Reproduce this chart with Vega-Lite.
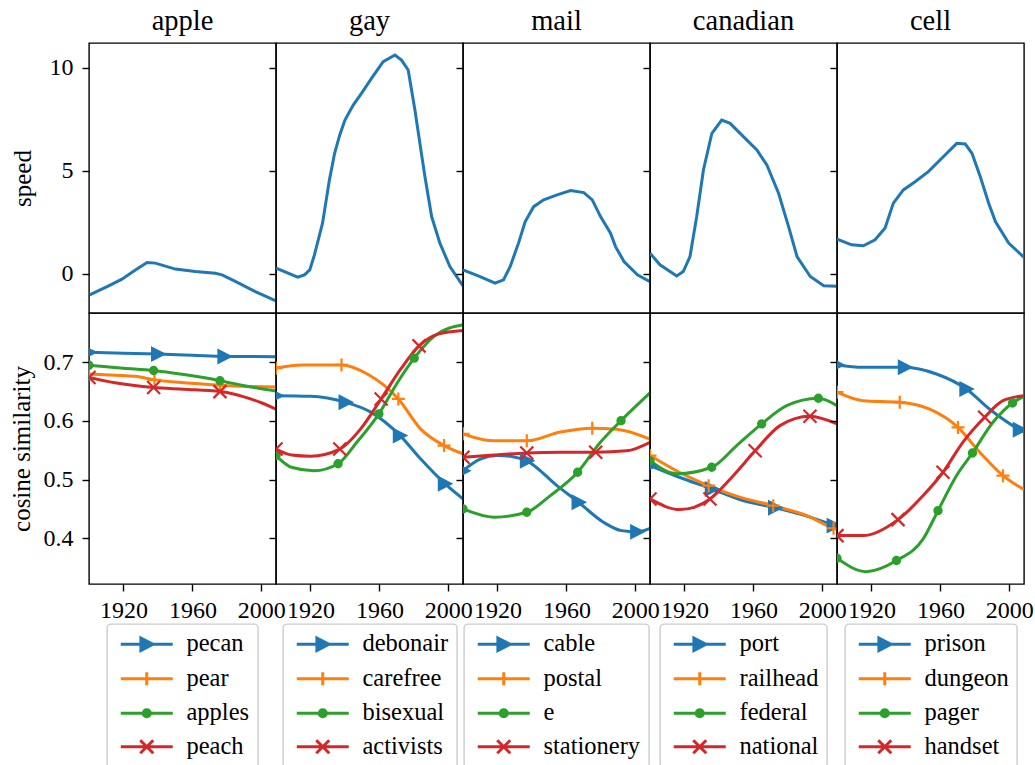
{
"$schema": "https://vega.github.io/schema/vega-lite/v6.json",
"padding": {"left": 8, "top": 5, "right": 0, "bottom": 0},
"datasets": {
"speed": [
{"t":"apple","year":1900.4,"speed":-1.02},{"t":"apple","year":1911.4,"speed":-0.58},{"t":"apple","year":1919.1,"speed":-0.26},{"t":"apple","year":1926.9,"speed":0.19},{"t":"apple","year":1933.7,"speed":0.55},{"t":"apple","year":1938.5,"speed":0.52},{"t":"apple","year":1950.1,"speed":0.23},{"t":"apple","year":1961.7,"speed":0.11},{"t":"apple","year":1973.3,"speed":0.03},{"t":"apple","year":1977.2,"speed":-0.05},{"t":"apple","year":1984.9,"speed":-0.37},{"t":"apple","year":1996.5,"speed":-0.86},{"t":"apple","year":2008.5,"speed":-1.31},
{"t":"gay","year":1900,"speed":0.28},{"t":"gay","year":1912.6,"speed":-0.16},{"t":"gay","year":1916.5,"speed":-0.05},{"t":"gay","year":1919.6,"speed":0.19},{"t":"gay","year":1922.3,"speed":0.92},{"t":"gay","year":1927,"speed":2.46},{"t":"gay","year":1931,"speed":4.56},{"t":"gay","year":1934,"speed":5.85},{"t":"gay","year":1937,"speed":6.74},{"t":"gay","year":1940,"speed":7.46},{"t":"gay","year":1944.8,"speed":8.19},{"t":"gay","year":1949.6,"speed":8.76},{"t":"gay","year":1955.4,"speed":9.48},{"t":"gay","year":1962.2,"speed":10.29},{"t":"gay","year":1969,"speed":10.62},{"t":"gay","year":1972.8,"speed":10.37},{"t":"gay","year":1976.7,"speed":9.89},{"t":"gay","year":1980.6,"speed":7.95},{"t":"gay","year":1983.5,"speed":6.33},{"t":"gay","year":1986.4,"speed":4.72},{"t":"gay","year":1990.3,"speed":2.78},{"t":"gay","year":1995.1,"speed":1.49},{"t":"gay","year":2000.9,"speed":0.35},{"t":"gay","year":2008.5,"speed":-0.58},
{"t":"mail","year":1900,"speed":0.19},{"t":"mail","year":1909.9,"speed":-0.13},{"t":"mail","year":1918.6,"speed":-0.45},{"t":"mail","year":1923.5,"speed":-0.29},{"t":"mail","year":1927.4,"speed":0.36},{"t":"mail","year":1932.2,"speed":1.49},{"t":"mail","year":1936.1,"speed":2.54},{"t":"mail","year":1941,"speed":3.26},{"t":"mail","year":1946.8,"speed":3.59},{"t":"mail","year":1954.6,"speed":3.83},{"t":"mail","year":1962.4,"speed":4.04},{"t":"mail","year":1970.1,"speed":3.94},{"t":"mail","year":1975,"speed":3.59},{"t":"mail","year":1979.8,"speed":2.78},{"t":"mail","year":1985.6,"speed":1.97},{"t":"mail","year":1988.5,"speed":1.32},{"t":"mail","year":1993.4,"speed":0.6},{"t":"mail","year":2001.2,"speed":-0.05},{"t":"mail","year":2008.5,"speed":-0.38},
{"t":"canadian","year":1900,"speed":1.0},{"t":"canadian","year":1905.8,"speed":0.44},{"t":"canadian","year":1915.5,"speed":-0.1},{"t":"canadian","year":1919.3,"speed":0.11},{"t":"canadian","year":1923.2,"speed":0.84},{"t":"canadian","year":1927.1,"speed":2.78},{"t":"canadian","year":1931,"speed":5.04},{"t":"canadian","year":1935.9,"speed":6.82},{"t":"canadian","year":1941.6,"speed":7.46},{"t":"canadian","year":1946.5,"speed":7.3},{"t":"canadian","year":1954.2,"speed":6.66},{"t":"canadian","year":1962,"speed":6.01},{"t":"canadian","year":1967.8,"speed":5.28},{"t":"canadian","year":1974.6,"speed":3.91},{"t":"canadian","year":1980.4,"speed":2.29},{"t":"canadian","year":1985.3,"speed":0.84},{"t":"canadian","year":1993,"speed":-0.13},{"t":"canadian","year":2000.8,"speed":-0.58},{"t":"canadian","year":2008.5,"speed":-0.6},
{"t":"cell","year":1900,"speed":1.68},{"t":"cell","year":1908.5,"speed":1.41},{"t":"cell","year":1915.3,"speed":1.36},{"t":"cell","year":1922.1,"speed":1.65},{"t":"cell","year":1927.9,"speed":2.22},{"t":"cell","year":1932.7,"speed":3.43},{"t":"cell","year":1938.5,"speed":4.07},{"t":"cell","year":1945.3,"speed":4.47},{"t":"cell","year":1953,"speed":4.96},{"t":"cell","year":1960.8,"speed":5.61},{"t":"cell","year":1969.5,"speed":6.33},{"t":"cell","year":1974.4,"speed":6.3},{"t":"cell","year":1978.3,"speed":5.85},{"t":"cell","year":1983.1,"speed":4.72},{"t":"cell","year":1988,"speed":3.43},{"t":"cell","year":1991.9,"speed":2.54},{"t":"cell","year":1999.6,"speed":1.49},{"t":"cell","year":2008.5,"speed":0.8}
],
"sim": [
{"t":"apple","w":"pecan","r":0,"year":1900,"cos":0.717},{"t":"apple","w":"pecan","r":0,"year":1920,"cos":0.7155},{"t":"apple","w":"pecan","r":0,"year":1940,"cos":0.714},{"t":"apple","w":"pecan","r":0,"year":1960,"cos":0.712},{"t":"apple","w":"pecan","r":0,"year":1979,"cos":0.710},{"t":"apple","w":"pecan","r":0,"year":2008.5,"cos":0.7095},
{"t":"apple","w":"pear","r":1,"year":1900,"cos":0.680},{"t":"apple","w":"pear","r":1,"year":1915,"cos":0.678},{"t":"apple","w":"pear","r":1,"year":1927,"cos":0.676},{"t":"apple","w":"pear","r":1,"year":1938,"cos":0.670},{"t":"apple","w":"pear","r":1,"year":1955,"cos":0.665},{"t":"apple","w":"pear","r":1,"year":1976,"cos":0.661},{"t":"apple","w":"pear","r":1,"year":1990,"cos":0.659},{"t":"apple","w":"pear","r":1,"year":2008.5,"cos":0.658},
{"t":"apple","w":"apples","r":2,"year":1900,"cos":0.695},{"t":"apple","w":"apples","r":2,"year":1920,"cos":0.690},{"t":"apple","w":"apples","r":2,"year":1937.5,"cos":0.686},{"t":"apple","w":"apples","r":2,"year":1955,"cos":0.679},{"t":"apple","w":"apples","r":2,"year":1976,"cos":0.6686},{"t":"apple","w":"apples","r":2,"year":1990,"cos":0.660},{"t":"apple","w":"apples","r":2,"year":2008.5,"cos":0.651},
{"t":"apple","w":"peach","r":3,"year":1900,"cos":0.674},{"t":"apple","w":"peach","r":3,"year":1915,"cos":0.665},{"t":"apple","w":"peach","r":3,"year":1937.5,"cos":0.657},{"t":"apple","w":"peach","r":3,"year":1955,"cos":0.654},{"t":"apple","w":"peach","r":3,"year":1976,"cos":0.650},{"t":"apple","w":"peach","r":3,"year":1990,"cos":0.641},{"t":"apple","w":"peach","r":3,"year":2000,"cos":0.631},{"t":"apple","w":"peach","r":3,"year":2008.5,"cos":0.620},
{"t":"gay","w":"debonair","r":0,"year":1900,"cos":0.643},{"t":"gay","w":"debonair","r":0,"year":1920,"cos":0.642},{"t":"gay","w":"debonair","r":0,"year":1940,"cos":0.632},{"t":"gay","w":"debonair","r":0,"year":1955,"cos":0.615},{"t":"gay","w":"debonair","r":0,"year":1972,"cos":0.575},{"t":"gay","w":"debonair","r":0,"year":1984,"cos":0.535},{"t":"gay","w":"debonair","r":0,"year":1998,"cos":0.493},{"t":"gay","w":"debonair","r":0,"year":2008.5,"cos":0.467},
{"t":"gay","w":"carefree","r":1,"year":1900,"cos":0.690},{"t":"gay","w":"carefree","r":1,"year":1915,"cos":0.6955},{"t":"gay","w":"carefree","r":1,"year":1938,"cos":0.6955},{"t":"gay","w":"carefree","r":1,"year":1953,"cos":0.680},{"t":"gay","w":"carefree","r":1,"year":1971,"cos":0.6375},{"t":"gay","w":"carefree","r":1,"year":1984,"cos":0.586},{"t":"gay","w":"carefree","r":1,"year":1997.5,"cos":0.558},{"t":"gay","w":"carefree","r":1,"year":2008.5,"cos":0.544},
{"t":"gay","w":"bisexual","r":2,"year":1900,"cos":0.541},{"t":"gay","w":"bisexual","r":2,"year":1909,"cos":0.521},{"t":"gay","w":"bisexual","r":2,"year":1922,"cos":0.515},{"t":"gay","w":"bisexual","r":2,"year":1936,"cos":0.527},{"t":"gay","w":"bisexual","r":2,"year":1947,"cos":0.564},{"t":"gay","w":"bisexual","r":2,"year":1959.7,"cos":0.612},{"t":"gay","w":"bisexual","r":2,"year":1970.6,"cos":0.666},{"t":"gay","w":"bisexual","r":2,"year":1980.2,"cos":0.707},{"t":"gay","w":"bisexual","r":2,"year":1992,"cos":0.745},{"t":"gay","w":"bisexual","r":2,"year":2008.5,"cos":0.764},
{"t":"gay","w":"activists","r":3,"year":1900,"cos":0.552},{"t":"gay","w":"activists","r":3,"year":1909,"cos":0.542},{"t":"gay","w":"activists","r":3,"year":1920,"cos":0.540},{"t":"gay","w":"activists","r":3,"year":1937,"cos":0.552},{"t":"gay","w":"activists","r":3,"year":1949,"cos":0.586},{"t":"gay","w":"activists","r":3,"year":1961,"cos":0.6375},{"t":"gay","w":"activists","r":3,"year":1972.5,"cos":0.689},{"t":"gay","w":"activists","r":3,"year":1983,"cos":0.728},{"t":"gay","w":"activists","r":3,"year":1994,"cos":0.748},{"t":"gay","w":"activists","r":3,"year":2008.5,"cos":0.754},
{"t":"mail","w":"cable","r":0,"year":1900,"cos":0.515},{"t":"mail","w":"cable","r":0,"year":1910,"cos":0.535},{"t":"mail","w":"cable","r":0,"year":1920,"cos":0.541},{"t":"mail","w":"cable","r":0,"year":1929,"cos":0.539},{"t":"mail","w":"cable","r":0,"year":1937,"cos":0.532},{"t":"mail","w":"cable","r":0,"year":1954.5,"cos":0.4897},{"t":"mail","w":"cable","r":0,"year":1967,"cos":0.4614},{"t":"mail","w":"cable","r":0,"year":1981.5,"cos":0.4273},{"t":"mail","w":"cable","r":0,"year":1992,"cos":0.413},{"t":"mail","w":"cable","r":0,"year":2001,"cos":0.411},{"t":"mail","w":"cable","r":0,"year":2008.5,"cos":0.417},
{"t":"mail","w":"postal","r":1,"year":1900,"cos":0.578},{"t":"mail","w":"postal","r":1,"year":1918,"cos":0.566},{"t":"mail","w":"postal","r":1,"year":1937,"cos":0.566},{"t":"mail","w":"postal","r":1,"year":1956.5,"cos":0.581},{"t":"mail","w":"postal","r":1,"year":1975,"cos":0.5875},{"t":"mail","w":"postal","r":1,"year":1989,"cos":0.586},{"t":"mail","w":"postal","r":1,"year":2008.5,"cos":0.569},
{"t":"mail","w":"e","r":2,"year":1900,"cos":0.450},{"t":"mail","w":"e","r":2,"year":1918,"cos":0.436},{"t":"mail","w":"e","r":2,"year":1937,"cos":0.4443},{"t":"mail","w":"e","r":2,"year":1950.7,"cos":0.4727},{"t":"mail","w":"e","r":2,"year":1966.5,"cos":0.5125},{"t":"mail","w":"e","r":2,"year":1979.7,"cos":0.5636},{"t":"mail","w":"e","r":2,"year":1991.7,"cos":0.6005},{"t":"mail","w":"e","r":2,"year":2008.5,"cos":0.6477},
{"t":"mail","w":"stationery","r":3,"year":1900,"cos":0.538},{"t":"mail","w":"stationery","r":3,"year":1918,"cos":0.542},{"t":"mail","w":"stationery","r":3,"year":1937,"cos":0.5454},{"t":"mail","w":"stationery","r":3,"year":1956,"cos":0.5466},{"t":"mail","w":"stationery","r":3,"year":1977,"cos":0.5466},{"t":"mail","w":"stationery","r":3,"year":1995,"cos":0.549},{"t":"mail","w":"stationery","r":3,"year":2008.5,"cos":0.5636},
{"t":"canadian","w":"port","r":0,"year":1900,"cos":0.524},{"t":"canadian","w":"port","r":0,"year":1917,"cos":0.504},{"t":"canadian","w":"port","r":0,"year":1935.8,"cos":0.484},{"t":"canadian","w":"port","r":0,"year":1952,"cos":0.466},{"t":"canadian","w":"port","r":0,"year":1972.5,"cos":0.452},{"t":"canadian","w":"port","r":0,"year":1991,"cos":0.4376},{"t":"canadian","w":"port","r":0,"year":2006.5,"cos":0.4215},{"t":"canadian","w":"port","r":0,"year":2008.5,"cos":0.419},
{"t":"canadian","w":"railhead","r":1,"year":1900,"cos":0.541},{"t":"canadian","w":"railhead","r":1,"year":1917,"cos":0.5125},{"t":"canadian","w":"railhead","r":1,"year":1934,"cos":0.4897},{"t":"canadian","w":"railhead","r":1,"year":1952,"cos":0.470},{"t":"canadian","w":"railhead","r":1,"year":1971.5,"cos":0.4556},{"t":"canadian","w":"railhead","r":1,"year":1991,"cos":0.4386},{"t":"canadian","w":"railhead","r":1,"year":2006.5,"cos":0.417},{"t":"canadian","w":"railhead","r":1,"year":2008.5,"cos":0.415},
{"t":"canadian","w":"federal","r":2,"year":1900,"cos":0.532},{"t":"canadian","w":"federal","r":2,"year":1915.5,"cos":0.510},{"t":"canadian","w":"federal","r":2,"year":1935.8,"cos":0.521},{"t":"canadian","w":"federal","r":2,"year":1950.3,"cos":0.558},{"t":"canadian","w":"federal","r":2,"year":1964.8,"cos":0.595},{"t":"canadian","w":"federal","r":2,"year":1979.3,"cos":0.626},{"t":"canadian","w":"federal","r":2,"year":1997.7,"cos":0.6386},{"t":"canadian","w":"federal","r":2,"year":2008.5,"cos":0.626},
{"t":"canadian","w":"national","r":3,"year":1900,"cos":0.467},{"t":"canadian","w":"national","r":3,"year":1917.4,"cos":0.4488},{"t":"canadian","w":"national","r":3,"year":1934.8,"cos":0.467},{"t":"canadian","w":"national","r":3,"year":1948.3,"cos":0.5067},{"t":"canadian","w":"national","r":3,"year":1961,"cos":0.549},{"t":"canadian","w":"national","r":3,"year":1975.4,"cos":0.592},{"t":"canadian","w":"national","r":3,"year":1992.8,"cos":0.608},{"t":"canadian","w":"national","r":3,"year":2008.5,"cos":0.595},
{"t":"cell","w":"prison","r":0,"year":1900,"cos":0.6955},{"t":"cell","w":"prison","r":0,"year":1915,"cos":0.6915},{"t":"cell","w":"prison","r":0,"year":1939.3,"cos":0.6915},{"t":"cell","w":"prison","r":0,"year":1957.7,"cos":0.680},{"t":"cell","w":"prison","r":0,"year":1975,"cos":0.6545},{"t":"cell","w":"prison","r":0,"year":1988.6,"cos":0.620},{"t":"cell","w":"prison","r":0,"year":2006,"cos":0.585},{"t":"cell","w":"prison","r":0,"year":2008.5,"cos":0.581},
{"t":"cell","w":"dungeon","r":1,"year":1900,"cos":0.649},{"t":"cell","w":"dungeon","r":1,"year":1915,"cos":0.6345},{"t":"cell","w":"dungeon","r":1,"year":1936.4,"cos":0.6318},{"t":"cell","w":"dungeon","r":1,"year":1953.8,"cos":0.620},{"t":"cell","w":"dungeon","r":1,"year":1970.2,"cos":0.589},{"t":"cell","w":"dungeon","r":1,"year":1982.8,"cos":0.5466},{"t":"cell","w":"dungeon","r":1,"year":1996.3,"cos":0.5067},{"t":"cell","w":"dungeon","r":1,"year":2008.5,"cos":0.483},
{"t":"cell","w":"pager","r":2,"year":1900,"cos":0.366},{"t":"cell","w":"pager","r":2,"year":1917,"cos":0.343},{"t":"cell","w":"pager","r":2,"year":1934.5,"cos":0.362},{"t":"cell","w":"pager","r":2,"year":1950,"cos":0.399},{"t":"cell","w":"pager","r":2,"year":1958.6,"cos":0.447},{"t":"cell","w":"pager","r":2,"year":1969.3,"cos":0.5067},{"t":"cell","w":"pager","r":2,"year":1978.6,"cos":0.5454},{"t":"cell","w":"pager","r":2,"year":1990.5,"cos":0.5977},{"t":"cell","w":"pager","r":2,"year":2001.8,"cos":0.6306},{"t":"cell","w":"pager","r":2,"year":2008.5,"cos":0.642},
{"t":"cell","w":"handset","r":3,"year":1900,"cos":0.4045},{"t":"cell","w":"handset","r":3,"year":1915,"cos":0.4045},{"t":"cell","w":"handset","r":3,"year":1935.4,"cos":0.4317},{"t":"cell","w":"handset","r":3,"year":1950,"cos":0.4727},{"t":"cell","w":"handset","r":3,"year":1961.5,"cos":0.5125},{"t":"cell","w":"handset","r":3,"year":1973,"cos":0.5636},{"t":"cell","w":"handset","r":3,"year":1985.7,"cos":0.6063},{"t":"cell","w":"handset","r":3,"year":1996.3,"cos":0.6345},{"t":"cell","w":"handset","r":3,"year":2008.5,"cos":0.643}
],
"mk": [
{"t":"apple","w":"pecan","r":0,"year":1900,"cos":0.717},{"t":"apple","w":"pecan","r":0,"year":1940,"cos":0.714},{"t":"apple","w":"pecan","r":0,"year":1978.5,"cos":0.710},
{"t":"apple","w":"pear","r":1,"year":1900,"cos":0.680},{"t":"apple","w":"pear","r":1,"year":1938,"cos":0.670},{"t":"apple","w":"pear","r":1,"year":1976,"cos":0.661},
{"t":"apple","w":"apples","r":2,"year":1900,"cos":0.695},{"t":"apple","w":"apples","r":2,"year":1937.5,"cos":0.686},{"t":"apple","w":"apples","r":2,"year":1976,"cos":0.6686},
{"t":"apple","w":"peach","r":3,"year":1900,"cos":0.674},{"t":"apple","w":"peach","r":3,"year":1937.5,"cos":0.657},{"t":"apple","w":"peach","r":3,"year":1976,"cos":0.650},
{"t":"gay","w":"debonair","r":0,"year":1900,"cos":0.643},{"t":"gay","w":"debonair","r":0,"year":1940.3,"cos":0.632},{"t":"gay","w":"debonair","r":0,"year":1971.8,"cos":0.575},{"t":"gay","w":"debonair","r":0,"year":1997.9,"cos":0.493},
{"t":"gay","w":"carefree","r":1,"year":1900,"cos":0.690},{"t":"gay","w":"carefree","r":1,"year":1938,"cos":0.6955},{"t":"gay","w":"carefree","r":1,"year":1971,"cos":0.6375},{"t":"gay","w":"carefree","r":1,"year":1997.5,"cos":0.558},
{"t":"gay","w":"bisexual","r":2,"year":1900,"cos":0.541},{"t":"gay","w":"bisexual","r":2,"year":1936,"cos":0.527},{"t":"gay","w":"bisexual","r":2,"year":1959.7,"cos":0.612},{"t":"gay","w":"bisexual","r":2,"year":1980.2,"cos":0.707},
{"t":"gay","w":"activists","r":3,"year":1900,"cos":0.552},{"t":"gay","w":"activists","r":3,"year":1937,"cos":0.552},{"t":"gay","w":"activists","r":3,"year":1961,"cos":0.6375},{"t":"gay","w":"activists","r":3,"year":1983,"cos":0.728},
{"t":"mail","w":"cable","r":0,"year":1900,"cos":0.515},{"t":"mail","w":"cable","r":0,"year":1937,"cos":0.532},{"t":"mail","w":"cable","r":0,"year":1967,"cos":0.4614},{"t":"mail","w":"cable","r":0,"year":2001,"cos":0.411},
{"t":"mail","w":"postal","r":1,"year":1900,"cos":0.578},{"t":"mail","w":"postal","r":1,"year":1937,"cos":0.566},{"t":"mail","w":"postal","r":1,"year":1975,"cos":0.5875},
{"t":"mail","w":"e","r":2,"year":1900,"cos":0.450},{"t":"mail","w":"e","r":2,"year":1937,"cos":0.4443},{"t":"mail","w":"e","r":2,"year":1966.5,"cos":0.5125},{"t":"mail","w":"e","r":2,"year":1991.7,"cos":0.6005},
{"t":"mail","w":"stationery","r":3,"year":1900,"cos":0.538},{"t":"mail","w":"stationery","r":3,"year":1937,"cos":0.5454},{"t":"mail","w":"stationery","r":3,"year":1977,"cos":0.5466},
{"t":"canadian","w":"port","r":0,"year":1900,"cos":0.524},{"t":"canadian","w":"port","r":0,"year":1935.8,"cos":0.484},{"t":"canadian","w":"port","r":0,"year":1972.5,"cos":0.452},{"t":"canadian","w":"port","r":0,"year":2006.5,"cos":0.4215},
{"t":"canadian","w":"railhead","r":1,"year":1900,"cos":0.541},{"t":"canadian","w":"railhead","r":1,"year":1934,"cos":0.4897},{"t":"canadian","w":"railhead","r":1,"year":1971.5,"cos":0.4556},{"t":"canadian","w":"railhead","r":1,"year":2006.5,"cos":0.417},
{"t":"canadian","w":"federal","r":2,"year":1900,"cos":0.532},{"t":"canadian","w":"federal","r":2,"year":1935.8,"cos":0.521},{"t":"canadian","w":"federal","r":2,"year":1964.8,"cos":0.595},{"t":"canadian","w":"federal","r":2,"year":1997.7,"cos":0.6386},
{"t":"canadian","w":"national","r":3,"year":1900,"cos":0.467},{"t":"canadian","w":"national","r":3,"year":1934.8,"cos":0.467},{"t":"canadian","w":"national","r":3,"year":1961,"cos":0.549},{"t":"canadian","w":"national","r":3,"year":1992.8,"cos":0.608},
{"t":"cell","w":"prison","r":0,"year":1900,"cos":0.6955},{"t":"cell","w":"prison","r":0,"year":1939.3,"cos":0.6915},{"t":"cell","w":"prison","r":0,"year":1975,"cos":0.6545},{"t":"cell","w":"prison","r":0,"year":2006,"cos":0.585},
{"t":"cell","w":"dungeon","r":1,"year":1900,"cos":0.649},{"t":"cell","w":"dungeon","r":1,"year":1936.4,"cos":0.6318},{"t":"cell","w":"dungeon","r":1,"year":1970.2,"cos":0.589},{"t":"cell","w":"dungeon","r":1,"year":1996.3,"cos":0.5067},
{"t":"cell","w":"pager","r":2,"year":1900,"cos":0.366},{"t":"cell","w":"pager","r":2,"year":1934.5,"cos":0.362},{"t":"cell","w":"pager","r":2,"year":1958.6,"cos":0.447},{"t":"cell","w":"pager","r":2,"year":1978.6,"cos":0.5454},{"t":"cell","w":"pager","r":2,"year":2001.8,"cos":0.6306},
{"t":"cell","w":"handset","r":3,"year":1900,"cos":0.4045},{"t":"cell","w":"handset","r":3,"year":1935.4,"cos":0.4317},{"t":"cell","w":"handset","r":3,"year":1961.5,"cos":0.5125},{"t":"cell","w":"handset","r":3,"year":1985.7,"cos":0.6063}
]
},
"columns": 5,
"spacing": 0,
"bounds": "flush",
"resolve": {"scale": {"color": "independent", "stroke": "independent", "shape": "independent"}, "legend": {"color": "independent"}},
"concat": [
 {"width": 187, "height": 270, "title": "apple", "data": {"name": "speed"}, "transform": [{"filter": "datum.t == 'apple'"}],
  "mark": {"type": "line", "color": "#1f77b4", "strokeWidth": 3, "clip": true},
  "encoding": {"x": {"field": "year", "type": "quantitative", "scale": {"domain": [1900, 2008.5], "nice": false, "zero": false}, "axis": null},
   "y": {"field": "speed", "type": "quantitative", "scale": {"domain": [-1.9, 11.2], "nice": false, "zero": false}, "axis": {"values": [0, 5, 10], "title": "speed", "titlePadding": 14}}}},
 {"width": 187, "height": 270, "title": "gay", "data": {"name": "speed"}, "transform": [{"filter": "datum.t == 'gay'"}],
  "mark": {"type": "line", "color": "#1f77b4", "strokeWidth": 3, "clip": true},
  "encoding": {"x": {"field": "year", "type": "quantitative", "scale": {"domain": [1900, 2008.5], "nice": false, "zero": false}, "axis": null},
   "y": {"field": "speed", "type": "quantitative", "scale": {"domain": [-1.9, 11.2], "nice": false, "zero": false}, "axis": {"values": [0, 5, 10], "labels": false, "title": null}}}},
 {"width": 187, "height": 270, "title": "mail", "data": {"name": "speed"}, "transform": [{"filter": "datum.t == 'mail'"}],
  "mark": {"type": "line", "color": "#1f77b4", "strokeWidth": 3, "clip": true},
  "encoding": {"x": {"field": "year", "type": "quantitative", "scale": {"domain": [1900, 2008.5], "nice": false, "zero": false}, "axis": null},
   "y": {"field": "speed", "type": "quantitative", "scale": {"domain": [-1.9, 11.2], "nice": false, "zero": false}, "axis": {"values": [0, 5, 10], "labels": false, "title": null}}}},
 {"width": 187, "height": 270, "title": "canadian", "data": {"name": "speed"}, "transform": [{"filter": "datum.t == 'canadian'"}],
  "mark": {"type": "line", "color": "#1f77b4", "strokeWidth": 3, "clip": true},
  "encoding": {"x": {"field": "year", "type": "quantitative", "scale": {"domain": [1900, 2008.5], "nice": false, "zero": false}, "axis": null},
   "y": {"field": "speed", "type": "quantitative", "scale": {"domain": [-1.9, 11.2], "nice": false, "zero": false}, "axis": {"values": [0, 5, 10], "labels": false, "title": null}}}},
 {"width": 187, "height": 270, "title": "cell", "data": {"name": "speed"}, "transform": [{"filter": "datum.t == 'cell'"}],
  "mark": {"type": "line", "color": "#1f77b4", "strokeWidth": 3, "clip": true},
  "encoding": {"x": {"field": "year", "type": "quantitative", "scale": {"domain": [1900, 2008.5], "nice": false, "zero": false}, "axis": null},
   "y": {"field": "speed", "type": "quantitative", "scale": {"domain": [-1.9, 11.2], "nice": false, "zero": false}, "axis": {"values": [0, 5, 10], "labels": false, "title": null}}}},
 {"width": 187, "height": 271, "layer": [
  {"data": {"name": "sim"}, "transform": [{"filter": "datum.t == 'apple'"}],
   "mark": {"type": "line", "strokeWidth": 3, "interpolate": "monotone", "clip": true},
   "encoding": {"x": {"field": "year", "type": "quantitative", "scale": {"domain": [1900, 2008.5], "nice": false, "zero": false}, "axis": {"values": [1920, 1960, 2000], "format": "d", "title": null}},
    "y": {"field": "cos", "type": "quantitative", "scale": {"domain": [0.322, 0.784], "nice": false, "zero": false}, "axis": {"values": [0.4, 0.5, 0.6, 0.7], "format": ".1f", "title": "cosine similarity", "titlePadding": 9}},
    "color": {"field": "w", "type": "nominal", "scale": {"domain": ["pecan", "pear", "apples", "peach"], "range": ["#1f77b4", "#ff7f0e", "#2ca02c", "#d62728"]},
     "legend": {"title": null, "encode": {"symbols": {"update": {"shape": {"signal": "['M-1,0H7M2.1,-0.95L3.95,0L2.1,0.95Z','M-1,0H7M3,-1V1','M-1,0H7M3.55,0A0.55,0.55 0 1,1 2.45,0A0.55,0.55 0 1,1 3.55,0Z','M-1,0H7M2,-1L4,1M2,1L4,-1'][datum.index]"}, "fill": {"signal": "['#1f77b4','#ff7f0e','#2ca02c','#d62728'][datum.index]"}, "stroke": {"signal": "['#1f77b4','#ff7f0e','#2ca02c','#d62728'][datum.index]"}, "strokeWidth": {"value": 3}, "opacity": {"value": 1}}}}}}}},
  {"data": {"name": "mk"}, "transform": [{"filter": "datum.t == 'apple'"}],
   "mark": {"type": "point", "filled": true, "size": 169, "strokeWidth": 2.2, "opacity": 1, "clip": true},
   "encoding": {"x": {"field": "year", "type": "quantitative"}, "y": {"field": "cos", "type": "quantitative"},
    "color": {"field": "w", "type": "nominal"},
    "stroke": {"field": "w", "type": "nominal", "scale": {"domain": ["pecan", "pear", "apples", "peach"], "range": ["#1f77b4", "#ff7f0e", "#2ca02c", "#d62728"]}, "legend": null},
    "shape": {"field": "r", "type": "nominal", "scale": {"domain": [0, 1, 2, 3], "range": ["M-0.9,-0.95L0.95,0L-0.9,0.95Z", "M-1,0H1M0,-1V1", "M0.55,0A0.55,0.55 0 1,1 -0.55,0A0.55,0.55 0 1,1 0.55,0Z", "M-1,-1L1,1M-1,1L1,-1"]}, "legend": null}}}
 ]},
 {"width": 187, "height": 271, "layer": [
  {"data": {"name": "sim"}, "transform": [{"filter": "datum.t == 'gay'"}],
   "mark": {"type": "line", "strokeWidth": 3, "interpolate": "monotone", "clip": true},
   "encoding": {"x": {"field": "year", "type": "quantitative", "scale": {"domain": [1900, 2008.5], "nice": false, "zero": false}, "axis": {"values": [1920, 1960, 2000], "format": "d", "title": null}},
    "y": {"field": "cos", "type": "quantitative", "scale": {"domain": [0.322, 0.784], "nice": false, "zero": false}, "axis": {"values": [0.4, 0.5, 0.6, 0.7], "labels": false, "title": null}},
    "color": {"field": "w", "type": "nominal", "scale": {"domain": ["debonair", "carefree", "bisexual", "activists"], "range": ["#1f77b4", "#ff7f0e", "#2ca02c", "#d62728"]},
     "legend": {"title": null, "encode": {"symbols": {"update": {"shape": {"signal": "['M-1,0H7M2.1,-0.95L3.95,0L2.1,0.95Z','M-1,0H7M3,-1V1','M-1,0H7M3.55,0A0.55,0.55 0 1,1 2.45,0A0.55,0.55 0 1,1 3.55,0Z','M-1,0H7M2,-1L4,1M2,1L4,-1'][datum.index]"}, "fill": {"signal": "['#1f77b4','#ff7f0e','#2ca02c','#d62728'][datum.index]"}, "stroke": {"signal": "['#1f77b4','#ff7f0e','#2ca02c','#d62728'][datum.index]"}, "strokeWidth": {"value": 3}, "opacity": {"value": 1}}}}}}}},
  {"data": {"name": "mk"}, "transform": [{"filter": "datum.t == 'gay'"}],
   "mark": {"type": "point", "filled": true, "size": 169, "strokeWidth": 2.2, "opacity": 1, "clip": true},
   "encoding": {"x": {"field": "year", "type": "quantitative"}, "y": {"field": "cos", "type": "quantitative"},
    "color": {"field": "w", "type": "nominal"},
    "stroke": {"field": "w", "type": "nominal", "scale": {"domain": ["debonair", "carefree", "bisexual", "activists"], "range": ["#1f77b4", "#ff7f0e", "#2ca02c", "#d62728"]}, "legend": null},
    "shape": {"field": "r", "type": "nominal", "scale": {"domain": [0, 1, 2, 3], "range": ["M-0.9,-0.95L0.95,0L-0.9,0.95Z", "M-1,0H1M0,-1V1", "M0.55,0A0.55,0.55 0 1,1 -0.55,0A0.55,0.55 0 1,1 0.55,0Z", "M-1,-1L1,1M-1,1L1,-1"]}, "legend": null}}}
 ]},
 {"width": 187, "height": 271, "layer": [
  {"data": {"name": "sim"}, "transform": [{"filter": "datum.t == 'mail'"}],
   "mark": {"type": "line", "strokeWidth": 3, "interpolate": "monotone", "clip": true},
   "encoding": {"x": {"field": "year", "type": "quantitative", "scale": {"domain": [1900, 2008.5], "nice": false, "zero": false}, "axis": {"values": [1920, 1960, 2000], "format": "d", "title": null}},
    "y": {"field": "cos", "type": "quantitative", "scale": {"domain": [0.322, 0.784], "nice": false, "zero": false}, "axis": {"values": [0.4, 0.5, 0.6, 0.7], "labels": false, "title": null}},
    "color": {"field": "w", "type": "nominal", "scale": {"domain": ["cable", "postal", "e", "stationery"], "range": ["#1f77b4", "#ff7f0e", "#2ca02c", "#d62728"]},
     "legend": {"title": null, "encode": {"symbols": {"update": {"shape": {"signal": "['M-1,0H7M2.1,-0.95L3.95,0L2.1,0.95Z','M-1,0H7M3,-1V1','M-1,0H7M3.55,0A0.55,0.55 0 1,1 2.45,0A0.55,0.55 0 1,1 3.55,0Z','M-1,0H7M2,-1L4,1M2,1L4,-1'][datum.index]"}, "fill": {"signal": "['#1f77b4','#ff7f0e','#2ca02c','#d62728'][datum.index]"}, "stroke": {"signal": "['#1f77b4','#ff7f0e','#2ca02c','#d62728'][datum.index]"}, "strokeWidth": {"value": 3}, "opacity": {"value": 1}}}}}}}},
  {"data": {"name": "mk"}, "transform": [{"filter": "datum.t == 'mail'"}],
   "mark": {"type": "point", "filled": true, "size": 169, "strokeWidth": 2.2, "opacity": 1, "clip": true},
   "encoding": {"x": {"field": "year", "type": "quantitative"}, "y": {"field": "cos", "type": "quantitative"},
    "color": {"field": "w", "type": "nominal"},
    "stroke": {"field": "w", "type": "nominal", "scale": {"domain": ["cable", "postal", "e", "stationery"], "range": ["#1f77b4", "#ff7f0e", "#2ca02c", "#d62728"]}, "legend": null},
    "shape": {"field": "r", "type": "nominal", "scale": {"domain": [0, 1, 2, 3], "range": ["M-0.9,-0.95L0.95,0L-0.9,0.95Z", "M-1,0H1M0,-1V1", "M0.55,0A0.55,0.55 0 1,1 -0.55,0A0.55,0.55 0 1,1 0.55,0Z", "M-1,-1L1,1M-1,1L1,-1"]}, "legend": null}}}
 ]},
 {"width": 187, "height": 271, "layer": [
  {"data": {"name": "sim"}, "transform": [{"filter": "datum.t == 'canadian'"}],
   "mark": {"type": "line", "strokeWidth": 3, "interpolate": "monotone", "clip": true},
   "encoding": {"x": {"field": "year", "type": "quantitative", "scale": {"domain": [1900, 2008.5], "nice": false, "zero": false}, "axis": {"values": [1920, 1960, 2000], "format": "d", "title": null}},
    "y": {"field": "cos", "type": "quantitative", "scale": {"domain": [0.322, 0.784], "nice": false, "zero": false}, "axis": {"values": [0.4, 0.5, 0.6, 0.7], "labels": false, "title": null}},
    "color": {"field": "w", "type": "nominal", "scale": {"domain": ["port", "railhead", "federal", "national"], "range": ["#1f77b4", "#ff7f0e", "#2ca02c", "#d62728"]},
     "legend": {"title": null, "encode": {"symbols": {"update": {"shape": {"signal": "['M-1,0H7M2.1,-0.95L3.95,0L2.1,0.95Z','M-1,0H7M3,-1V1','M-1,0H7M3.55,0A0.55,0.55 0 1,1 2.45,0A0.55,0.55 0 1,1 3.55,0Z','M-1,0H7M2,-1L4,1M2,1L4,-1'][datum.index]"}, "fill": {"signal": "['#1f77b4','#ff7f0e','#2ca02c','#d62728'][datum.index]"}, "stroke": {"signal": "['#1f77b4','#ff7f0e','#2ca02c','#d62728'][datum.index]"}, "strokeWidth": {"value": 3}, "opacity": {"value": 1}}}}}}}},
  {"data": {"name": "mk"}, "transform": [{"filter": "datum.t == 'canadian'"}],
   "mark": {"type": "point", "filled": true, "size": 169, "strokeWidth": 2.2, "opacity": 1, "clip": true},
   "encoding": {"x": {"field": "year", "type": "quantitative"}, "y": {"field": "cos", "type": "quantitative"},
    "color": {"field": "w", "type": "nominal"},
    "stroke": {"field": "w", "type": "nominal", "scale": {"domain": ["port", "railhead", "federal", "national"], "range": ["#1f77b4", "#ff7f0e", "#2ca02c", "#d62728"]}, "legend": null},
    "shape": {"field": "r", "type": "nominal", "scale": {"domain": [0, 1, 2, 3], "range": ["M-0.9,-0.95L0.95,0L-0.9,0.95Z", "M-1,0H1M0,-1V1", "M0.55,0A0.55,0.55 0 1,1 -0.55,0A0.55,0.55 0 1,1 0.55,0Z", "M-1,-1L1,1M-1,1L1,-1"]}, "legend": null}}}
 ]},
 {"width": 187, "height": 271, "layer": [
  {"data": {"name": "sim"}, "transform": [{"filter": "datum.t == 'cell'"}],
   "mark": {"type": "line", "strokeWidth": 3, "interpolate": "monotone", "clip": true},
   "encoding": {"x": {"field": "year", "type": "quantitative", "scale": {"domain": [1900, 2008.5], "nice": false, "zero": false}, "axis": {"values": [1920, 1960, 2000], "format": "d", "title": null}},
    "y": {"field": "cos", "type": "quantitative", "scale": {"domain": [0.322, 0.784], "nice": false, "zero": false}, "axis": {"values": [0.4, 0.5, 0.6, 0.7], "labels": false, "title": null}},
    "color": {"field": "w", "type": "nominal", "scale": {"domain": ["prison", "dungeon", "pager", "handset"], "range": ["#1f77b4", "#ff7f0e", "#2ca02c", "#d62728"]},
     "legend": {"title": null, "encode": {"symbols": {"update": {"shape": {"signal": "['M-1,0H7M2.1,-0.95L3.95,0L2.1,0.95Z','M-1,0H7M3,-1V1','M-1,0H7M3.55,0A0.55,0.55 0 1,1 2.45,0A0.55,0.55 0 1,1 3.55,0Z','M-1,0H7M2,-1L4,1M2,1L4,-1'][datum.index]"}, "fill": {"signal": "['#1f77b4','#ff7f0e','#2ca02c','#d62728'][datum.index]"}, "stroke": {"signal": "['#1f77b4','#ff7f0e','#2ca02c','#d62728'][datum.index]"}, "strokeWidth": {"value": 3}, "opacity": {"value": 1}}}}}}}},
  {"data": {"name": "mk"}, "transform": [{"filter": "datum.t == 'cell'"}],
   "mark": {"type": "point", "filled": true, "size": 169, "strokeWidth": 2.2, "opacity": 1, "clip": true},
   "encoding": {"x": {"field": "year", "type": "quantitative"}, "y": {"field": "cos", "type": "quantitative"},
    "color": {"field": "w", "type": "nominal"},
    "stroke": {"field": "w", "type": "nominal", "scale": {"domain": ["prison", "dungeon", "pager", "handset"], "range": ["#1f77b4", "#ff7f0e", "#2ca02c", "#d62728"]}, "legend": null},
    "shape": {"field": "r", "type": "nominal", "scale": {"domain": [0, 1, 2, 3], "range": ["M-0.9,-0.95L0.95,0L-0.9,0.95Z", "M-1,0H1M0,-1V1", "M0.55,0A0.55,0.55 0 1,1 -0.55,0A0.55,0.55 0 1,1 0.55,0Z", "M-1,-1L1,1M-1,1L1,-1"]}, "legend": null}}}
 ]}
],
"config": {
 "font": "Liberation Serif",
 "view": {"stroke": "black", "strokeWidth": 1.4},
 "axis": {"domain": false, "grid": false, "tickColor": "black", "tickWidth": 1.4, "tickSize": 7, "labelFont": "Liberation Serif", "labelFontSize": 24, "labelColor": "black", "titleFont": "Liberation Serif", "titleFontSize": 25, "titleFontWeight": "normal", "titleColor": "black", "labelPadding": 7},
 "axisY": {"labelPadding": 9},
 "title": {"font": "Liberation Serif", "fontSize": 28.5, "fontWeight": "normal", "color": "black", "offset": 8, "anchor": "middle"},
 "legend": {"orient": "bottom", "direction": "vertical", "symbolSize": 169, "symbolStrokeWidth": 3, "labelFont": "Liberation Serif", "labelFontSize": 24.5, "labelColor": "black", "labelOffset": 47, "rowPadding": 8.5, "padding": 8, "strokeColor": "#cccccc", "strokeWidth": 1.4, "cornerRadius": 4, "fillColor": "white", "offset": 2, "labelLimit": 300, "layout": {"bottom": {"anchor": "middle"}}}
}
}
